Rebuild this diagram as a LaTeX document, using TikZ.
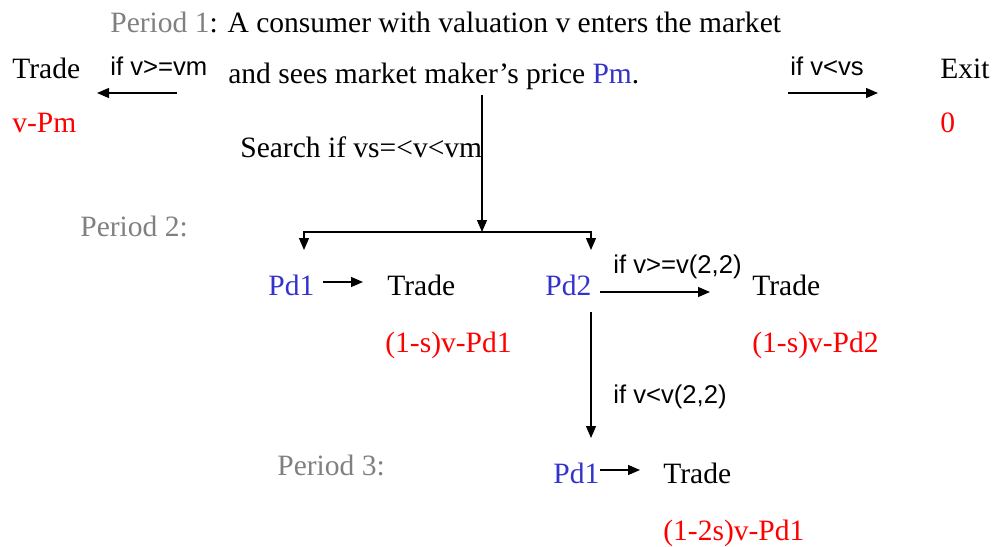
\documentclass[tikz,border=0pt]{standalone}
\usepackage{fontspec}
\setmainfont{Liberation Serif}
\setsansfont{Liberation Sans}
\usetikzlibrary{arrows.meta}
\definecolor{pgray}{RGB}{128,128,128}
\definecolor{pblue}{RGB}{51,51,204}
\definecolor{pred}{RGB}{255,0,0}

\begin{document}
\begin{tikzpicture}[
    arr/.style={-{Triangle[length=0.24cm,width=0.2cm]}, line width=0.7pt},
    txt/.style={inner sep=0pt, anchor=base west, font=\fontsize{16.8}{19}\selectfont},
    cond/.style={inner sep=0pt, anchor=base west, font=\sffamily\fontsize{14.6}{17}\selectfont},
    price/.style={txt, text=pblue},
    pay/.style={txt, text=pred},
    period/.style={txt, text=pgray}
]
    \useasboundingbox (0,0) rectangle (19.88,-10.94);

    % Period 1
    \node[txt] (p1) at (2.2,-0.64) {{\color{pgray}Period 1}: A consumer with valuation v enters the market};
    \node[txt] (see) at (4.56,-1.66) {and sees market maker’s price {\color{pblue}Pm}.};

    % Trade right away
    \node[txt] (tradeM) at (0.24,-1.57) {Trade};
    \node[pay] (payM) at (0.24,-2.64) {v-Pm};
    \node[cond] (ifbuy) at (2.2,-1.5) {if v>=vm};
    \coordinate (buyS) at (3.54,-1.86);
    \coordinate (buyE) at (1.94,-1.86);
    \draw[arr] (buyS) -- (buyE);

    % Exit
    \node[cond] (ifexit) at (15.8,-1.5) {if v<vs};
    \node[txt] (exit) at (18.8,-1.57) {Exit};
    \node[pay] (payE) at (18.8,-2.64) {0};
    \coordinate (exitS) at (15.76,-1.86);
    \coordinate (exitE) at (17.56,-1.86);
    \draw[arr] (exitS) -- (exitE);

    % Search
    \node[txt] (search) at (4.8,-3.14) {Search if vs=<v<vm};
    \coordinate (top) at (9.64,-1.9);
    \coordinate (fork) at (9.64,-4.64);
    \coordinate (dropA) at (6.08,-5.0);
    \coordinate (dropB) at (11.82,-5.0);
    \draw[arr] (top) -- (fork);
    \draw[arr] (fork) -| (dropA);
    \draw[arr] (fork) -| (dropB);

    % Period 2
    \node[period] (p2) at (1.6,-4.72) {Period 2:};
    \node[price] (pdA) at (5.36,-5.9) {Pd1};
    \node[txt] (tradeA) at (7.74,-5.9) {Trade};
    \node[pay] (payA) at (7.7,-7.04) {(1-s)v-Pd1};
    \coordinate (aS) at (6.46,-5.64);
    \coordinate (aE) at (7.26,-5.64);
    \draw[arr] (aS) -- (aE);

    \node[price] (pdB) at (10.9,-5.9) {Pd2};
    \node[cond] (ifhi) at (12.26,-5.46) {if v>=v(2,2)};
    \node[txt] (tradeB) at (15.04,-5.9) {Trade};
    \node[pay] (payB) at (15.04,-7.04) {(1-s)v-Pd2};
    \coordinate (bS) at (12.0,-5.84);
    \coordinate (bE) at (14.2,-5.84);
    \draw[arr] (bS) -- (bE);

    % Period 3
    \node[cond] (iflo) at (12.26,-8.06) {if v<v(2,2)};
    \coordinate (downS) at (11.82,-6.24);
    \coordinate (downE) at (11.82,-8.76);
    \draw[arr] (downS) -- (downE);

    \node[period] (p3) at (5.54,-9.5) {Period 3:};
    \node[price] (pdC) at (11.06,-9.66) {Pd1};
    \node[txt] (tradeC) at (13.26,-9.66) {Trade};
    \node[pay] (payC) at (13.26,-10.8) {(1-2s)v-Pd1};
    \coordinate (cS) at (12.0,-9.4);
    \coordinate (cE) at (12.8,-9.4);
    \draw[arr] (cS) -- (cE);

\end{tikzpicture}
\end{document}
